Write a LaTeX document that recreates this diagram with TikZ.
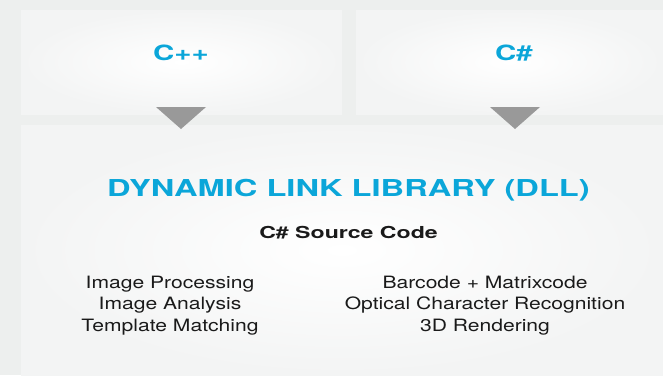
\documentclass[tikz,border=0pt]{standalone}
\usepackage{fontspec}
\setmainfont{TeX Gyre Heros}
\newfontfamily\widebold[FakeStretch=1.4]{TeX Gyre Heros}
\newfontfamily\wideplain[FakeStretch=1.24]{TeX Gyre Heros}
\definecolor{pagegray}{HTML}{EDEFEE}
\definecolor{panelwhite}{HTML}{F9F9F9}
\definecolor{panelrim}{HTML}{F3F4F4}
\definecolor{pointergray}{HTML}{999999}
\definecolor{dllblue}{HTML}{0BA6D9}
\definecolor{inkblack}{HTML}{1A1A1A}

\tikzset{
  panel/.style    = {shape=rectangle, inner sep=0pt, draw=none,
                     shading=radial, inner color=white, outer color=panelrim},
  langlabel/.style = {anchor=base, inner sep=0pt, text=dllblue,
                     font=\widebold\bfseries\fontsize{21}{24}\selectfont},
  title/.style    = {anchor=base, inner sep=0pt, text=dllblue,
                     font=\widebold\bfseries\fontsize{23.3}{26}\selectfont},
  subtitle/.style = {anchor=base, inner sep=0pt, text=inkblack,
                     font=\widebold\bfseries\fontsize{16.5}{20}\selectfont},
  featurelist/.style = {anchor=north, inner sep=0pt, align=center, text=inkblack,
                     font=\wideplain\fontsize{17}{21.5}\selectfont},
  pointer/.style  = {fill=pointergray}
}

\begin{document}
\begin{tikzpicture}[x=1pt,y=-1pt]
\useasboundingbox (0,0) rectangle (663,375);
\fill[pagegray] (0,0) rectangle (663,375);

% language panels
\node[panel, minimum width=321pt, minimum height=104pt] (cppbox) at (181.5,62) {};
\node[panel, minimum width=307pt, minimum height=104pt] (csbox) at (509.5,62) {};
% library panel
\node[panel, minimum width=642pt, minimum height=250pt] (dllbox) at (342,250) {};

% pointers
\fill[pointer] (156,107) -- (206,107) -- (181,129) -- cycle;
\fill[pointer] (490,107) -- (540,107) -- (515,129) -- cycle;

\node[langlabel] (cpp) at (181,60) {C++};
\node[langlabel] (cs) at (514,60) {C\#};

\node[title] (dll) at (348.5,196) {DYNAMIC LINK LIBRARY (DLL)};
\node[subtitle] (src) at (348.5,238) {C\# Source Code};

\node[featurelist] (imaging) at (170,275.7)
  {Image Processing\\Image Analysis\\Template Matching};
\node[featurelist] (reading) at (485,275.7)
  {Barcode + Matrixcode\\Optical Character Recognition\\3D Rendering};
\end{tikzpicture}
\end{document}
